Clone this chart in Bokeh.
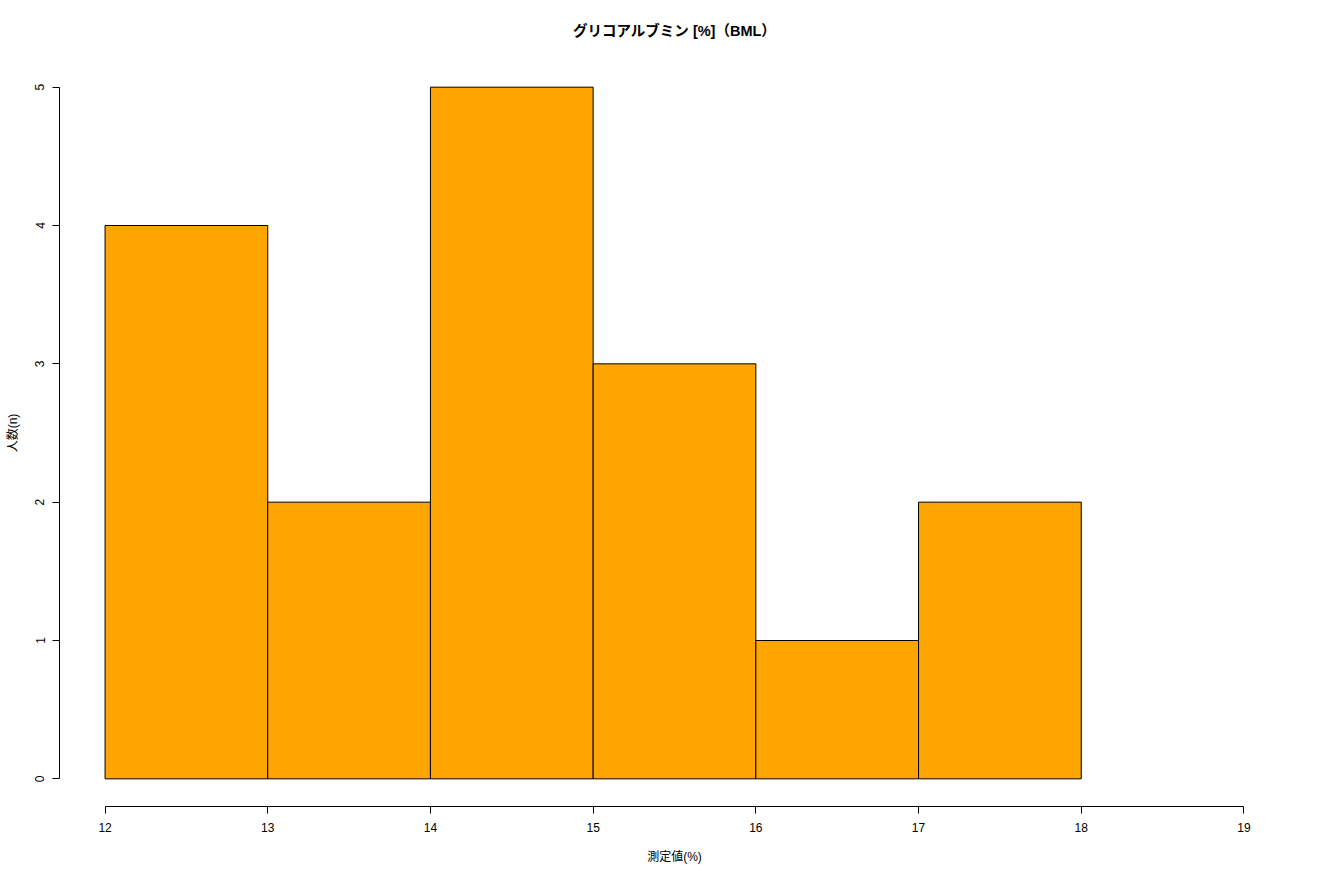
from bokeh.plotting import figure
from bokeh.models import Range1d, FixedTicker, ColumnDataSource
from bokeh.embed import file_html
from bokeh.resources import INLINE

# Histogram data
bin_left = [12, 13, 14, 15, 16, 17]
bin_right = [13, 14, 15, 16, 17, 18]
counts = [4, 2, 5, 3, 1, 2]
x_ticks = [12, 13, 14, 15, 16, 17, 18, 19]
y_ticks = [0, 1, 2, 3, 4, 5]

title_text = "グリコアルブミン [%]（BML）"
x_label = "測定値(%)"
y_label = "人数(n)"

FONT = '"Liberation Sans", "Noto Sans CJK JP", sans-serif'

src = ColumnDataSource(dict(left=bin_left, right=bin_right, top=counts,
                            bottom=[0] * len(counts)))

p = figure(width=1304, height=870, output_backend="svg", toolbar_location=None,
           x_range=Range1d(11.72, 19.28), y_range=Range1d(-0.2, 5.2),
           min_border_left=59, min_border_right=15, min_border_top=59,
           min_border_bottom=64, title=title_text)

p.quad(left="left", right="right", top="top", bottom="bottom", source=src,
       fill_color="#FFA500", line_color="black", line_width=1)

p.xgrid.visible = False
p.ygrid.visible = False
p.outline_line_color = None
p.background_fill_color = "white"
p.border_fill_color = "white"

p.title.align = "center"
p.title.text_font = FONT
p.title.text_font_size = "14.5px"
p.title.text_font_style = "bold"
p.title.text_color = "black"
p.title.vertical_align = "bottom"
p.title.standoff = 41

for ax, ticks, lbl in ((p.xaxis[0], x_ticks, x_label), (p.yaxis[0], y_ticks, y_label)):
    ax.ticker = FixedTicker(ticks=ticks)
    ax.bounds = (ticks[0], ticks[-1])
    ax.minor_tick_line_color = None
    ax.major_tick_in = 0
    ax.major_tick_out = 7
    ax.axis_line_color = "black"
    ax.major_tick_line_color = "black"
    ax.major_label_text_font = FONT
    ax.major_label_text_font_size = "12px"
    ax.major_label_text_color = "black"
    ax.axis_label = lbl
    ax.axis_label_text_font = FONT
    ax.axis_label_text_font_size = "12px"
    ax.axis_label_text_font_style = "normal"
    ax.axis_label_text_color = "black"

p.xaxis[0].major_label_standoff = 9
p.xaxis[0].axis_label_standoff = 15
p.yaxis[0].major_label_orientation = "vertical"
p.yaxis[0].major_label_standoff = 8
p.yaxis[0].axis_label_standoff = 13

open("out.html", "w").write(file_html(p, INLINE))
